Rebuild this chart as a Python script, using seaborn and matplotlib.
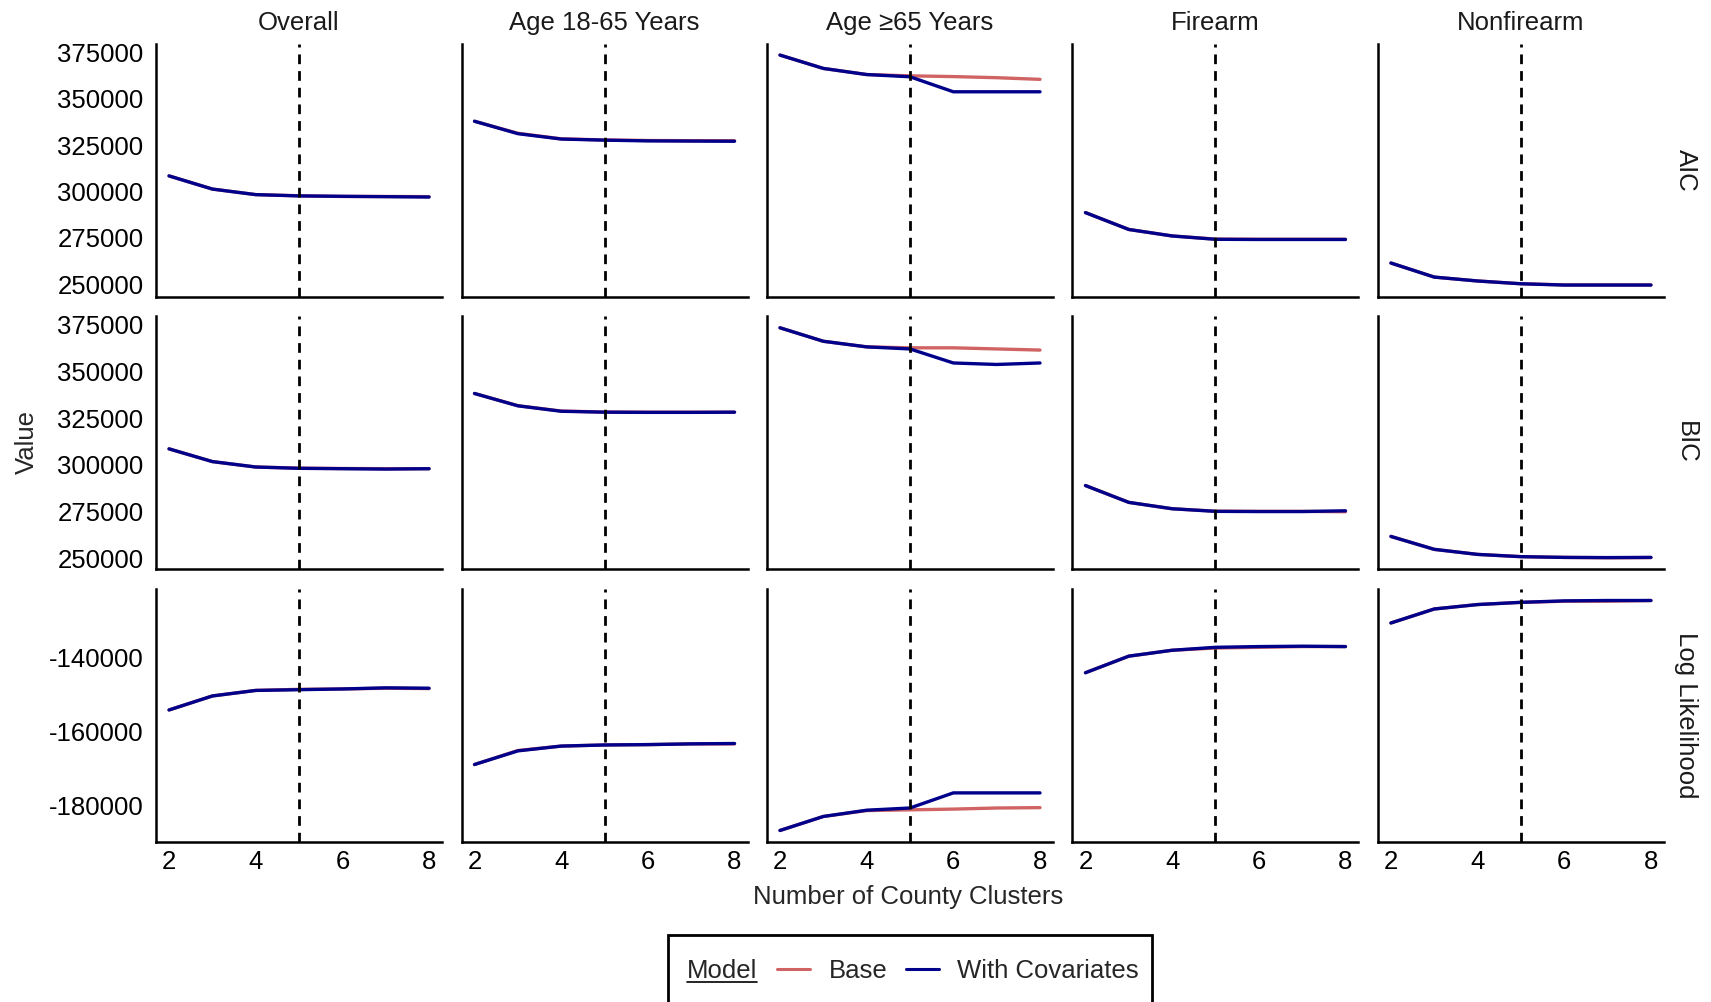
import matplotlib
matplotlib.use('Agg')
import matplotlib.pyplot as plt
import seaborn as sns
import pandas as pd
import numpy as np
from matplotlib.lines import Line2D
from matplotlib.patches import Rectangle
from matplotlib.ticker import FuncFormatter


clusters = [2, 3, 4, 5, 6, 7, 8]
groups = ['Overall', 'Age 18-65 Years', 'Age \u226565 Years', 'Firearm', 'Nonfirearm']
metrics = ['AIC', 'BIC', 'Log Likelihood']
models = ['Base', 'With Covariates']

# AIC
aic_overall_base = [308400, 301300, 298300, 297700, 297300, 297300, 297200]
aic_overall_cov = [308400, 301300, 298300, 297600, 297400, 297200, 297000]
aic_1865_base = [337900, 331400, 328400, 327800, 327500, 327400, 327400]
aic_1865_cov = [337900, 331200, 328300, 327700, 327300, 327200, 327100]
aic_65_base = [373600, 366400, 363100, 362400, 362000, 361400, 360500]
aic_65_cov = [373600, 366400, 363100, 361900, 353800, 353800, 353800]
aic_fire_base = [288600, 279500, 276000, 274300, 274200, 274200, 274200]
aic_fire_cov = [288600, 279500, 276000, 274200, 274100, 274100, 274100]
aic_nonfire_base = [261400, 253800, 251700, 250200, 249600, 249600, 249600]
aic_nonfire_cov = [261400, 253800, 251700, 250200, 249500, 249500, 249500]

# BIC
bic_overall_base = [308600, 301800, 298900, 298300, 298100, 298000, 298000]
bic_overall_cov = [308600, 301800, 298900, 298200, 298000, 297800, 298000]
bic_1865_base = [338200, 331700, 328800, 328300, 328200, 328200, 328200]
bic_1865_cov = [338200, 331600, 328700, 328200, 328100, 328100, 328200]
bic_65_base = [373300, 366100, 363100, 362600, 362600, 362000, 361400]
bic_65_cov = [373300, 366100, 363100, 362000, 354500, 353700, 354500]
bic_fire_base = [289000, 280000, 276600, 275300, 275200, 275200, 275000]
bic_fire_cov = [289000, 280000, 276600, 275200, 275100, 275100, 275500]
bic_nonfire_base = [261800, 254900, 252200, 251000, 250600, 250400, 250500]
bic_nonfire_cov = [261800, 254900, 252200, 251000, 250600, 250500, 250600]

# Log likelihood
ll_overall_base = [-154200, -150400, -148900, -148600, -148500, -148300, -148400]
ll_overall_cov = [-154200, -150400, -148900, -148700, -148500, -148200, -148300]
ll_1865_base = [-169000, -165200, -164000, -163700, -163600, -163400, -163400]
ll_1865_cov = [-169000, -165300, -164000, -163700, -163600, -163400, -163300]
ll_65_base = [-186900, -183100, -181500, -181300, -181100, -180800, -180700]
ll_65_cov = [-186900, -183100, -181400, -180800, -176700, -176700, -176700]
ll_fire_base = [-144100, -139600, -138000, -137400, -137200, -137000, -137000]
ll_fire_cov = [-144100, -139600, -138000, -137200, -137000, -136900, -137000]
ll_nonfire_base = [-130600, -126800, -125600, -125000, -124700, -124700, -124500]
ll_nonfire_cov = [-130600, -126800, -125600, -125000, -124600, -124500, -124500]

aic_ticks = [250000, 275000, 300000, 325000, 350000, 375000]
ll_ticks = [-180000, -160000, -140000]
optimal_k = 5

series = {
    'AIC': [(aic_overall_base, aic_overall_cov), (aic_1865_base, aic_1865_cov), (aic_65_base, aic_65_cov),
            (aic_fire_base, aic_fire_cov), (aic_nonfire_base, aic_nonfire_cov)],
    'BIC': [(bic_overall_base, bic_overall_cov), (bic_1865_base, bic_1865_cov), (bic_65_base, bic_65_cov),
            (bic_fire_base, bic_fire_cov), (bic_nonfire_base, bic_nonfire_cov)],
    'Log Likelihood': [(ll_overall_base, ll_overall_cov), (ll_1865_base, ll_1865_cov), (ll_65_base, ll_65_cov),
                       (ll_fire_base, ll_fire_cov), (ll_nonfire_base, ll_nonfire_cov)],
}

rows = []
for m in metrics:
    for g, pair in zip(groups, series[m]):
        for mod, vals in zip(models, pair):
            for k, v in zip(clusters, vals):
                rows.append({'metric': m, 'group': g, 'model': mod, 'clusters': k, 'value': v})
df = pd.DataFrame(rows)

################################################################################################

sns.set_theme(style='white')
plt.rcParams['font.family'] = ['Liberation Sans', 'DejaVu Sans']
FS = 18.5
palette = {'Base': '#D06464', 'With Covariates': '#00008B'}

fig, axes = plt.subplots(3, 5, figsize=(17.11, 10.02), dpi=100, sharex=True, sharey='row')
fig.subplots_adjust(left=0.0912, right=0.9725, top=0.9565, bottom=0.1597, wspace=0.068, hspace=0.078)

for i, m in enumerate(metrics):
    dm = df[df['metric'] == m]
    lo, hi = dm['value'].min(), dm['value'].max()
    pad = (hi - lo) * 0.05
    for j, g in enumerate(groups):
        ax = axes[i, j]
        sub = dm[dm['group'] == g]
        sns.lineplot(data=sub, x='clusters', y='value', hue='model', hue_order=models,
                     palette=palette, ax=ax, legend=False, linewidth=2.4)
        ax.axvline(optimal_k, color='black', linestyle=(0, (3.5, 2.5)), linewidth=2)
        ax.set_xlabel('')
        ax.set_ylabel('')
        ax.set_xlim(1.7, 8.3)
        ax.set_ylim(lo - pad, hi + pad)
        ax.set_xticks([2, 4, 6, 8])
        ax.set_yticks(ll_ticks if m == 'Log Likelihood' else aic_ticks)
        ax.yaxis.set_major_formatter(FuncFormatter(lambda v, p: f'{v:.0f}'))
        ax.tick_params(axis='both', length=0, labelsize=FS, colors='black')
        ax.tick_params(axis='y', pad=9)
        ax.tick_params(axis='x', pad=6)
        for s in ['top', 'right']:
            ax.spines[s].set_visible(False)
        for s in ['left', 'bottom']:
            ax.spines[s].set_color('black')
            ax.spines[s].set_linewidth(1.8)
        if i == 0:
            ax.set_title(g, fontsize=FS, color='#1a1a1a', pad=9.5)
        if j == len(groups) - 1:
            ax.text(1.077, 0.5, m, transform=ax.transAxes, rotation=270, fontsize=FS,
                    color='#1a1a1a', ha='center', va='center')

fig.text(0.016, 0.559, 'Value', rotation=90, fontsize=FS, ha='center', va='center')
fig.text(0.531, 0.105, 'Number of County Clusters', fontsize=FS, ha='center', va='center')

# legend with inline underlined title and a box
y_leg = 1 - 971 / 1002
handles = [Line2D([], [], color=palette[mod], linewidth=2.2) for mod in models]
fig.legend(handles=handles, labels=models, loc='center left', bbox_to_anchor=(777 / 1711, y_leg),
           ncol=2, frameon=False, fontsize=FS, handlelength=1.28, handletextpad=0.72,
           columnspacing=0.72, borderpad=0, borderaxespad=0)
t = fig.text(687 / 1711, y_leg, 'Model', fontsize=FS, ha='left', va='center')
fig.canvas.draw()
bb = t.get_window_extent().transformed(fig.transFigure.inverted())
fig.add_artist(Line2D([bb.x0, bb.x1], [bb.y0 + 0.001, bb.y0 + 0.001], color='black', linewidth=1.2,
                      transform=fig.transFigure))
fig.add_artist(Rectangle((668 / 1711, -0.01), 484 / 1711, 0.0769, transform=fig.transFigure,
                         fill=False, edgecolor='black', linewidth=2, clip_on=False))

fig.savefig('out.png', dpi=100)
